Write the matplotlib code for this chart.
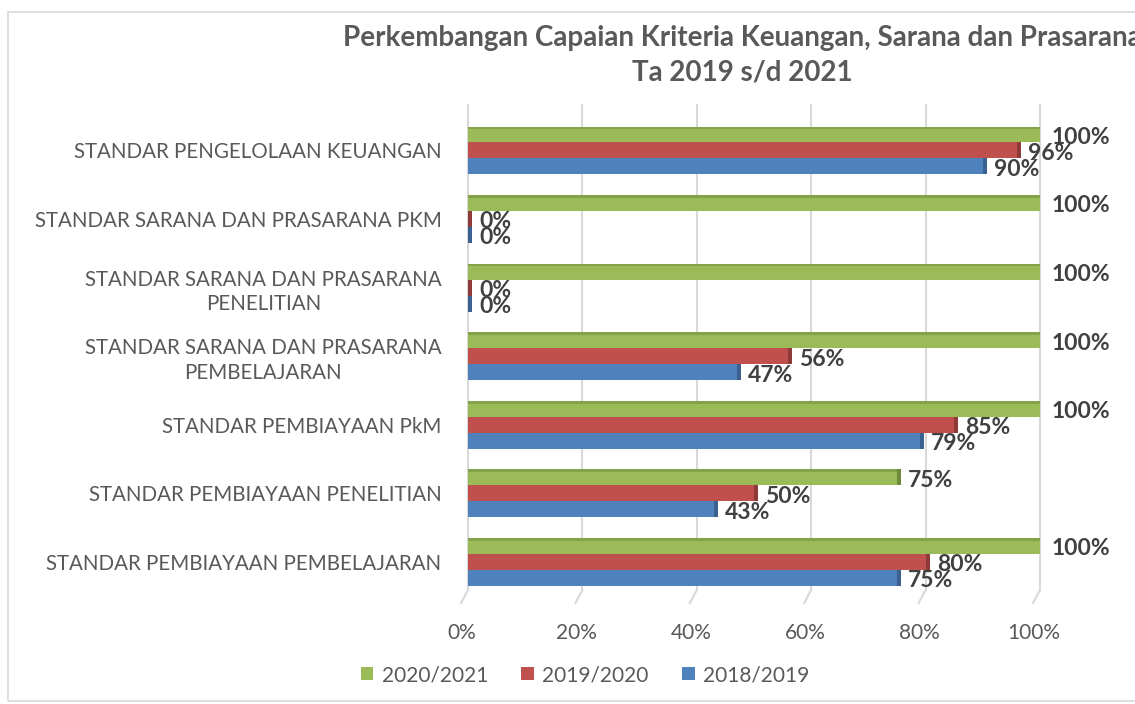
import numpy as np
import matplotlib.pyplot as plt
import matplotlib.transforms as mtransforms
from matplotlib.patches import Rectangle, Patch

plt.rcParams['font.family'] = ['Lato', 'DejaVu Sans']

# ---------------------------------------------------------------- data
categories = ['STANDAR PENGELOLAAN KEUANGAN',
              'STANDAR SARANA DAN PRASARANA PKM',
              'STANDAR SARANA DAN PRASARANA\nPENELITIAN',
              'STANDAR SARANA DAN PRASARANA\nPEMBELAJARAN',
              'STANDAR PEMBIAYAAN PkM',
              'STANDAR PEMBIAYAAN PENELITIAN',
              'STANDAR PEMBIAYAAN PEMBELAJARAN']
series_names = ['2020/2021', '2019/2020', '2018/2019']
v2021 = [1.00, 1.00, 1.00, 1.00, 1.00, 0.75, 1.00]
v2020 = [0.96, 0.00, 0.00, 0.56, 0.85, 0.50, 0.80]
v2019 = [0.90, 0.00, 0.00, 0.47, 0.79, 0.43, 0.75]
xticks = [0, 0.2, 0.4, 0.6, 0.8, 1.0]

colors = ['#9BBB59', '#C0504D', '#4F81BD']
darks = ['#6F8A3C', '#8E3A38', '#3B6190']
txtgray = '#595959'
lblgray = '#404040'

#---------------------------------------------------------------- figure
fig = plt.figure(figsize=(11.35, 7.04), dpi=100)
fig.patches.append(Rectangle((8/1135, 3/704), 1.2, 1 - 15/704,
                             transform=fig.transFigure, fill=False,
                             edgecolor='#D9D9D9', linewidth=1.2))

ax = fig.add_axes([468/1135, 1 - 590/704, 572/1135, 485/704])
ax.set_xlim(0, 1.0)
ax.set_ylim(6.408, -0.663)

y = np.arange(len(categories))
h = 0.233
offs = [-h, 0, h]
data = [v2021, v2020, v2019]

for k in range(3):
  vals = data[k]
  ax.barh(y + offs[k], vals, height=h, color=colors[k], zorder=3)
  for i in range(len(vals)):
    # 3d-ish end cap
    ax.add_patch(Rectangle((vals[i], y[i] + offs[k] - h/2), 0.007, h,
                           facecolor=darks[k], edgecolor='none', zorder=3))
    ax.annotate('%d%%' % round(vals[i]*100), (vals[i], y[i] + offs[k]),
                xytext=(8, -2), textcoords='offset points',
                ha='left', va='center', fontsize=16.5, fontweight='bold',
                color=lblgray, annotation_clip=False, zorder=5)
  if k == 0:
    # darker top face on the front (green) bar
    for i in range(len(vals)):
      ax.add_patch(Rectangle((0, y[i] + offs[k] - h/2), vals[i], 0.04,
                             facecolor=darks[k], edgecolor='none',
                             alpha=0.5, zorder=4))

# grid lines with small slanted foot
trans = ax.get_xaxis_transform()
dx = -7 / 572.0
for xt in xticks:
  ax.plot([xt, xt], [0, 1], transform=trans, color='#D9D9D9', lw=1.5,
          zorder=1, clip_on=False)
  ax.plot([xt, xt + dx], [0, -13/485], transform=trans, color='#D9D9D9',
          lw=1.5, zorder=1, clip_on=False)

for s in ax.spines.values():
  s.set_visible(False)

ax.set_xticks(xticks)
ax.set_xticklabels(['%d%%' % round(t*100) for t in xticks])
ax.tick_params(axis='x', length=0, pad=24, labelsize=15, labelcolor=txtgray)
shift = mtransforms.ScaledTranslation(-6/100, 0, fig.dpi_scale_trans)
for lab in ax.get_xticklabels():
  lab.set_transform(lab.get_transform() + shift)

ax.set_yticks(y)
ax.set_yticklabels(categories, multialignment='center', linespacing=1.3)
ax.tick_params(axis='y', length=0, pad=19, labelsize=14.8, labelcolor=txtgray)

fig.text(742/1135, 1 - 38/704,
         'Perkembangan Capaian Kriteria Keuangan, Sarana dan Prasarana',
         ha='center', va='center', fontsize=20, fontweight='bold', color=txtgray)
fig.text(742/1135, 1 - 72/704, 'Ta 2019 s/d 2021',
         ha='center', va='center', fontsize=20, fontweight='bold', color=txtgray)

handles = [Patch(facecolor=c) for c in colors]
fig.legend(handles, series_names, loc='center', ncol=3, frameon=False,
           bbox_to_anchor=(585/1135, 1 - 675/704), fontsize=15,
           handlelength=0.6, handleheight=0.6, handletextpad=0.4,
           columnspacing=1.6, labelcolor=txtgray)

fig.savefig('out.png', dpi=100)
